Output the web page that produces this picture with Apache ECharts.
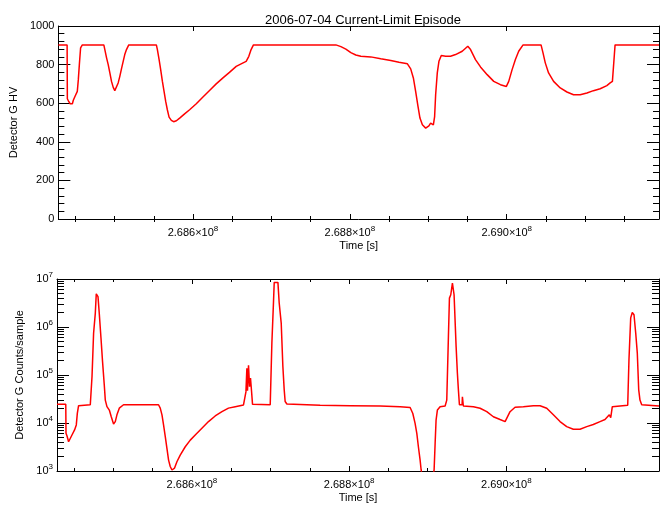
<!DOCTYPE html>
<html><head><meta charset="utf-8">
<script src="https://cdn.jsdelivr.net/npm/echarts@6/dist/echarts.min.js"></script>
<style>html,body{margin:0;padding:0;background:#fff}#c{width:670px;height:511px}</style>
</head><body><div id="c"></div>
<script>
// ---- data (time = T0 + ks*1000 seconds) ----
const T0 = 268400000;
const hvTimeKs = [28.35, 39.5, 39.8, 41.5, 43.4, 46.2, 47.4, 49.5, 51.6, 52.5, 53.8, 55.1, 56.7, 58.9, 86.3, 87.6, 89.8, 91.9, 94.0, 96.1, 98.3, 100.3, 102.5, 104.6, 106.7, 108.8, 111.0, 113.0, 115.2, 118.1, 153.3, 154.6, 156.8, 158.8, 161.0, 163.1, 165.2, 167.3, 169.5, 172.4, 175.3, 178.8, 183.0, 189.3, 195.7, 204.2, 212.7, 221.1, 229.6, 238.2, 246.5, 255.1, 261.4, 267.8, 271.2, 274.1, 277.1, 382.2, 388.6, 394.9, 401.3, 407.6, 414.0, 426.7, 439.4, 452.2, 462.7, 473.4, 477.6, 481.0, 483.9, 486.9, 489.4, 492.5, 496.7, 500.8, 503.0, 506.5, 508.1, 509.4, 511.5, 513.6, 516.6, 522.1, 528.4, 534.8, 543.3, 550.4, 553.9, 560.2, 566.6, 575.1, 583.5, 592.0, 599.6, 602.6, 606.9, 611.1, 615.3, 620.9, 643.8, 646.3, 649.2, 653.4, 659.8, 668.3, 676.8, 685.2, 693.7, 702.3, 710.6, 719.2, 727.7, 731.9, 734.0, 734.8, 737.3, 738.2, 794.2];
const hvVolts = [902, 902, 623, 609, 597, 597, 615, 635, 640, 661, 722, 800, 887, 902, 902, 878, 835, 800, 757, 713, 682, 665, 674, 705, 739, 778, 817, 852, 878, 902, 902, 878, 826, 774, 713, 661, 609, 566, 528, 511, 504, 509, 523, 545, 566, 597, 632, 666, 700, 731, 760, 791, 804, 817, 843, 878, 902, 902, 893, 880, 862, 850, 843, 840, 830, 821, 812, 804, 778, 731, 661, 584, 523, 488, 471, 483, 497, 488, 531, 644, 757, 817, 847, 843, 843, 852, 869, 895, 878, 826, 788, 748, 713, 696, 687, 713, 774, 826, 869, 902, 902, 861, 809, 757, 713, 679, 658, 644, 644, 653, 665, 675, 691, 705, 696, 713, 852, 902, 902];
const cntTimeKs = [28.35, 39.5, 39.8, 41.1, 43.1, 45.3, 47.4, 50.7, 52.9, 54.2, 55.8, 70.7, 72.9, 74.9, 77.1, 78.3, 80.5, 82.1, 84.3, 86.3, 88.5, 89.8, 91.9, 94.9, 97.4, 100.3, 102.5, 104.6, 107.6, 113.0, 157.5, 159.7, 161.9, 163.9, 166.1, 168.2, 170.3, 172.4, 174.6, 175.6, 177.9, 180.9, 185.1, 191.5, 197.9, 204.2, 212.7, 221.1, 229.6, 238.2, 246.5, 255.1, 265.6, 268.7, 269.9, 270.7, 272.0, 273.3, 274.5, 275.8, 277.1, 299.6, 301.7, 303.8, 304.7, 309.4, 311.0, 313.6, 315.7, 317.4, 318.6, 320.8, 363.1, 401.3, 439.4, 464.9, 477.6, 481.0, 483.9, 486.1, 488.1, 490.3, 491.6, 492.8, 506.8, 508.1, 509.4, 510.6, 512.3, 515.7, 522.1, 524.2, 526.3, 527.6, 529.3, 531.4, 532.6, 533.5, 536.1, 537.7, 539.0, 540.3, 543.7, 544.1, 545.3, 558.1, 566.6, 575.1, 583.5, 592.0, 598.4, 600.5, 604.7, 611.1, 621.6, 634.4, 642.9, 651.4, 659.8, 668.3, 676.8, 685.2, 693.7, 702.3, 710.6, 719.2, 725.5, 731.0, 732.8, 734.8, 736.1, 754.4, 756.0, 758.2, 760.2, 762.4, 764.6, 766.6, 768.4, 770.0, 772.2, 794.2];
const cntValues = [24500, 24500, 6100, 5370, 4070, 4420, 5620, 7160, 9120, 15900, 22900, 24000, 93000, 740000, 1950000, 4900000, 4300000, 1950000, 590000, 190000, 62000, 30000, 22000, 18600, 13500, 9550, 10700, 14800, 20400, 24000, 24000, 20400, 14800, 9100, 5190, 2960, 1690, 1240, 1050, 980, 1150, 1560, 2140, 3200, 4400, 5600, 7760, 10700, 14000, 17200, 20400, 21900, 23800, 44500, 138000, 47000, 160000, 57000, 86000, 47000, 24500, 24000, 460000, 3400000, 8500000, 8500000, 3200000, 1200000, 150000, 49000, 28000, 24900, 23500, 23000, 22500, 21900, 21000, 15800, 9800, 6100, 3200, 1690, 1050, 800, 800, 1050, 3800, 11500, 18700, 21900, 22600, 30000, 630000, 4000000, 4700000, 8200000, 7600000, 4700000, 390000, 110000, 49000, 24000, 24000, 35000, 22600, 21900, 20300, 17200, 13500, 11800, 10700, 11500, 17200, 21300, 21900, 22900, 22900, 20300, 14800, 10700, 8400, 7400, 7400, 8400, 9300, 10700, 11800, 14800, 13000, 21900, 23400, 23400, 210000, 1550000, 2000000, 1800000, 740000, 285000, 49000, 30000, 24000, 22600];

// ---- ticks ----
const X_MIN = 268428350, X_MAX = 269194200;
const xTickValues = [268600000, 268800000, 269000000];
const xTickLabels = ['2.686', '2.688', '2.690'];
const xTickExp = '8';
const xMinorValues = [268450000, 268500000, 268550000, 268650000, 268700000, 268750000, 268850000, 268900000, 268950000, 269050000, 269100000, 269150000];
const hvTickLabels = ['0', '200', '400', '600', '800', '1000'];
const logTickValues = [1e3, 1e4, 1e5, 1e6, 1e7];
const logTickExps = ['3', '4', '5', '6', '7'];
const logMinorValues = [2e3,3e3,4e3,5e3,6e3,7e3,8e3,9e3, 2e4,3e4,4e4,5e4,6e4,7e4,8e4,9e4, 2e5,3e5,4e5,5e5,6e5,7e5,8e5,9e5, 2e6,3e6,4e6,5e6,6e6,7e6,8e6,9e6];

const FONT = 'Liberation Sans';
const BLACK = '#000';
const rich = {
  a: {fontSize: 11, fontFamily: FONT, color: BLACK, lineHeight: 16},
  s: {fontSize: 8, fontFamily: FONT, color: BLACK, verticalAlign: 'top', lineHeight: 10}
};
const lineSt = {color: BLACK, width: 1};

function xAxes(g) {
  const base = {type: 'value', gridIndex: g, min: X_MIN, max: X_MAX, splitLine: {show: false}};
  return [
    Object.assign({}, base, {
      position: 'bottom',
      axisLine: {show: true, onZero: false, lineStyle: lineSt},
      axisTick: {show: true, inside: true, length: 5, customValues: xTickValues, lineStyle: lineSt},
      axisLabel: {show: true, margin: 6, customValues: xTickValues, rich: rich,
        formatter: v => '{a|' + xTickLabels[xTickValues.indexOf(v)] + '×10}{s|' + xTickExp + '}'},
      name: 'Time [s]', nameLocation: 'middle', nameGap: 21,
      nameTextStyle: {fontSize: 11, fontFamily: FONT, color: BLACK}
    }),
    Object.assign({}, base, {
      position: 'bottom', axisLine: {show: false},
      axisTick: {show: true, inside: true, length: 3, customValues: xMinorValues, lineStyle: lineSt},
      axisLabel: {show: false}
    }),
    Object.assign({}, base, {
      position: 'top', axisLine: {show: true, onZero: false, lineStyle: lineSt},
      axisTick: {show: true, inside: true, length: 5, customValues: xTickValues, lineStyle: lineSt},
      axisLabel: {show: false}
    }),
    Object.assign({}, base, {
      position: 'top', axisLine: {show: false},
      axisTick: {show: true, inside: true, length: 3, customValues: xMinorValues, lineStyle: lineSt},
      axisLabel: {show: false}
    })
  ];
}

function hvAxis(pos) {
  return {
    type: 'value', gridIndex: 0, min: 0, max: 1000, interval: 200, position: pos,
    axisLine: {show: true, onZero: false, lineStyle: lineSt},
    axisTick: {show: true, inside: true, length: 12, lineStyle: lineSt},
    minorTick: {show: true, splitNumber: 5, length: 6, lineStyle: lineSt},
    splitLine: {show: false},
    axisLabel: {show: pos === 'left', margin: 4, fontSize: 11, fontFamily: FONT, color: BLACK,
      formatter: v => hvTickLabels[Math.round(v / 200)]},
    name: pos === 'left' ? 'Detector G HV' : '', nameLocation: 'middle', nameGap: 38,
    nameTextStyle: {fontSize: 11, fontFamily: FONT, color: BLACK}
  };
}
function logAxis(pos, minor) {
  return {
    type: 'log', logBase: 10, gridIndex: 1, min: 1e3, max: 1e7, position: pos,
    axisLine: {show: !minor, onZero: false, lineStyle: lineSt},
    axisTick: {show: true, inside: true, length: minor ? 7 : 12,
      customValues: minor ? logMinorValues : logTickValues, lineStyle: lineSt},
    splitLine: {show: false},
    axisLabel: {show: pos === 'left' && !minor, margin: 4, customValues: logTickValues, rich: rich,
      formatter: v => '{a|10}{s|' + logTickExps[logTickValues.indexOf(v)] + '}'},
    name: (pos === 'left' && !minor) ? 'Detector G Counts/sample' : '', nameLocation: 'middle', nameGap: 28,
    nameTextStyle: {fontSize: 11, fontFamily: FONT, color: BLACK}
  };
}

const hvData = hvTimeKs.map((k, i) => [T0 + k * 1000, hvVolts[i]]);
const cntData = cntTimeKs.map((k, i) => [T0 + k * 1000, cntValues[i]]);

const chart = echarts.init(document.getElementById('c'), null, {renderer: 'canvas'});
chart.setOption({
  animation: false,
  backgroundColor: '#fff',
  title: {text: '2006-07-04 Current-Limit Episode', left: 358, textAlign: 'center', top: 9,
    textStyle: {fontSize: 13, fontWeight: 'normal', fontFamily: FONT, color: BLACK}},
  grid: [
    {left: 57, right: 11, top: 26, height: 193},
    {left: 57, right: 11, top: 279, height: 192}
  ],
  xAxis: xAxes(0).concat(xAxes(1)),
  yAxis: [hvAxis('left'), hvAxis('right'), logAxis('left', false), logAxis('left', true), logAxis('right', false), logAxis('right', true)],
  series: [
    {type: 'line', xAxisIndex: 0, yAxisIndex: 0, data: hvData, showSymbol: false, clip: true,
      lineStyle: {color: '#ff0000', width: 1.5}, itemStyle: {color: '#ff0000'}},
    {type: 'line', xAxisIndex: 4, yAxisIndex: 2, data: cntData, showSymbol: false, clip: true,
      lineStyle: {color: '#ff0000', width: 1.5}, itemStyle: {color: '#ff0000'}}
  ]
});
</script>
</body></html>
